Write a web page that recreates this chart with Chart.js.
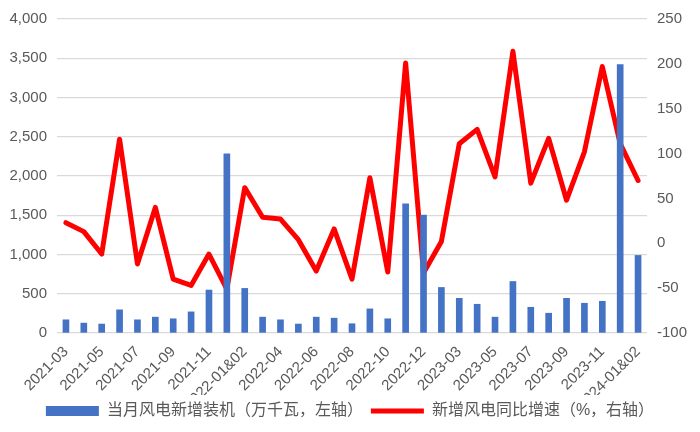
<!DOCTYPE html>
<html><head><meta charset="utf-8">
<script src="https://cdn.jsdelivr.net/npm/chart.js@4"></script>
<style>html,body{margin:0;padding:0;background:#fff}#wrap{width:700px;height:432px;position:relative}</style>
</head><body><div id="wrap"><canvas id="c"></canvas></div>
<script>
const categories = ['2021-03','2021-04','2021-05','2021-06','2021-07','2021-08','2021-09','2021-10','2021-11','2021-12',
  '2022-01&02','2022-03','2022-04','2022-05','2022-06','2022-07','2022-08','2022-09','2022-10','2022-11','2022-12',
  '2023-01&02','2023-03','2023-04','2023-05','2023-06','2023-07','2023-08','2023-09','2023-10','2023-11','2023-12','2024-01&02'];
const installs = [168,126,114,295,168,202,181,269,547,2284,
  568,202,168,114,202,189,118,307,181,1644,1502,
  580,442,366,202,656,328,252,442,379,404,3420,988];
const growth = [23,13,-12,116,-23,40,-40,-47,-12,-51,
  62,29,27,4,-31,16,-40,73,-32,201,-33,
  2,111,127,74,214,67,117,48,102,197,111,70];
const leftRange = {min:0, max:4000, step:500};
const rightRange = {min:-100, max:250, step:50};
const seriesNames = ['当月风电新增装机（万千瓦，左轴）','新增风电同比增速（%，右轴）'];

const FONT = '"Liberation Sans", Arial, "Noto Sans CJK SC", sans-serif';
const GRAY = '#595959';

new Chart(document.getElementById('c'), {
  data: {
    labels: categories,
    datasets: [
      {type:'bar', label: seriesNames[0], data: installs, yAxisID:'y', order:0,
       backgroundColor:'#4472C4', barThickness:6, pointStyle:'rect', borderWidth:0},
      {type:'line', label: seriesNames[1], data: growth, yAxisID:'y1', order:1,
       borderColor:'#FF0000', backgroundColor:'#FF0000', borderWidth:5, pointRadius:0,
       tension:0, borderJoinStyle:'round', borderCapStyle:'round', pointStyle:'line'}
    ]
  },
  options: {
    responsive:true, maintainAspectRatio:false, animation:false,
    layout:{padding:{top:3,left:0,right:0,bottom:3}},
    plugins:{
      tooltip:{enabled:false},
      legend:{position:'bottom', labels:{usePointStyle:true, pointStyleWidth:53, boxHeight:10,
        color:GRAY, font:{family:FONT, size:16}, padding:8}}
    },
    scales:{
      x:{grid:{display:false}, border:{display:false},
         ticks:{autoSkip:false, maxRotation:45, minRotation:45, color:GRAY, padding:2,
           font:{family:FONT, size:15},
           callback:function(v,i){ return i%2===0 ? categories[i] : ''; }},
         afterFit:function(s){ s.height = 62; }},
      y:{position:'left', min:leftRange.min, max:leftRange.max,
         grid:{color:'#d9d9d9', lineWidth:1.3, drawTicks:false}, border:{display:false},
         ticks:{stepSize:leftRange.step, color:GRAY, padding:10, font:{family:FONT, size:15},
           callback:function(v){ return v.toLocaleString('en-US'); }},
         afterFit:function(s){ s.width = 57; }},
      y1:{position:'right', min:rightRange.min, max:rightRange.max,
         grid:{drawOnChartArea:false, drawTicks:false}, border:{display:false},
         ticks:{stepSize:rightRange.step, color:GRAY, padding:10, font:{family:FONT, size:15}},
         afterFit:function(s){ s.width = 53; }}
    }
  }
});
</script></body></html>
